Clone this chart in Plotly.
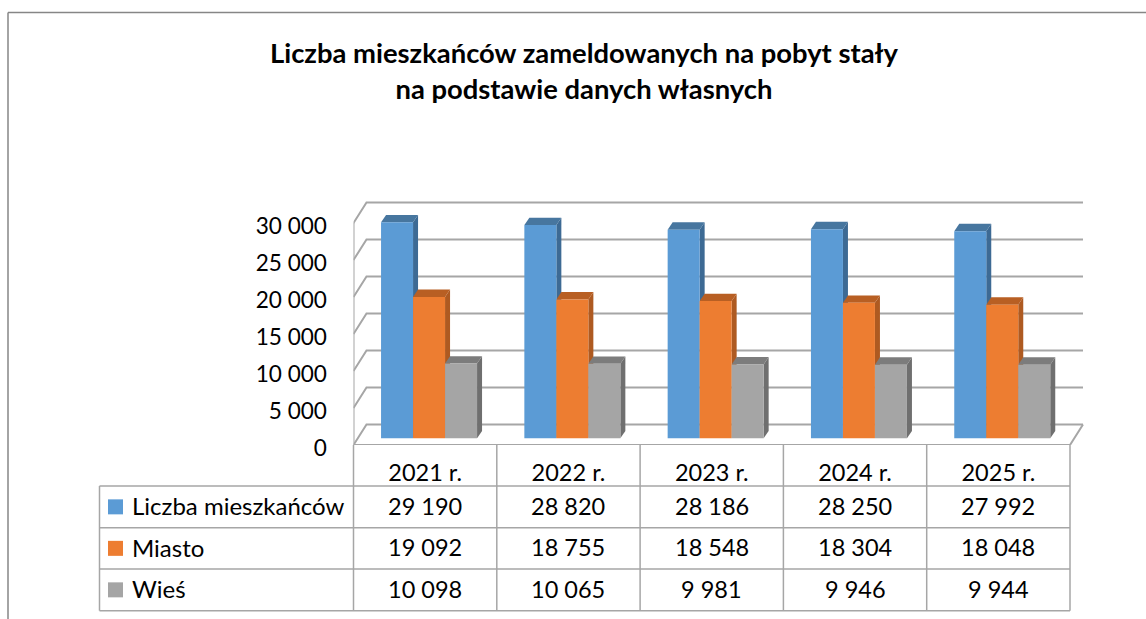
import plotly.graph_objects as go

# ---------- data ----------
categories = ["2021 r.", "2022 r.", "2023 r.", "2024 r.", "2025 r."]
series_names = ["Liczba mieszkańców", "Miasto", "Wieś"]
residents = [29190, 28820, 28186, 28250, 27992]
city = [19092, 18755, 18548, 18304, 18048]
village = [10098, 10065, 9981, 9946, 9944]
tick_values = [0, 5000, 10000, 15000, 20000, 25000, 30000]
title_text = "Liczba mieszkańców zameldowanych na pobyt stały<br>na podstawie danych własnych"

# ---------- style ----------
FONT = "Lato"
front_colors = ["#5B9BD5", "#ED7D31", "#A5A5A5"]
side_colors = ["#3D6A94", "#AE5A21", "#6F6F6F"]
top_colors = ["#47769F", "#B85F23", "#7C7C7C"]
GRID = "#A6A6A6"
W, H = 1146, 619


def fmt(v):
    return f"{v:,}".replace(",", " ")


def px(x):
    return x / W


def py(y):
    return 1 - y / H


# ---------- plot geometry ----------
LEFT, ZERO_Y, CELL = 353.5, 445.0, 143.3
UNIT_PER_PX = 30000 / 222.0
PLOT_RIGHT, PLOT_TOP = 1095.0, 190.0
x_range = [-0.5, -0.5 + (PLOT_RIGHT - LEFT) / CELL]
y_range = [0, (ZERO_Y - PLOT_TOP) * UNIT_PER_PX]
x_dom = [px(LEFT), px(PLOT_RIGHT)]
y_dom = [py(ZERO_Y), py(PLOT_TOP)]

WALL_DX = 13.0 / CELL          # back-wall depth
WALL_DY = 20.5 * UNIT_PER_PX
BAR_DX = 5.0 / CELL            # bar depth
BAR_DY = 7.4 * UNIT_PER_PX
BAR_BASE = 6.7 * UNIT_PER_PX
BAR_W = 32.0 / CELL
GROUP_OFF = -44.1 / CELL
X_FRONT_END = 4.5

fig = go.Figure()

# grid / walls
gx, gy = [], []
for v in tick_values:
    gx += [-0.5, -0.5 + WALL_DX, X_FRONT_END + WALL_DX, None]
    gy += [v, v + WALL_DY, v + WALL_DY, None]
# left vertical edge
gx += [-0.5, -0.5, None]
gy += [0, tick_values[-1], None]
# floor front and right edges
gx += [-0.5, X_FRONT_END, X_FRONT_END + WALL_DX]
gy += [0, 0, WALL_DY]
fig.add_trace(go.Scatter(x=gx, y=gy, mode="lines", cliponaxis=False,
                         line=dict(color=GRID, width=2), hoverinfo="skip", showlegend=False))

# 3D sides and tops, back to front, computed from the values
all_series = [residents, city, village]
for s, vals in enumerate(all_series):
    for i, v in enumerate(vals):
        left = i + GROUP_OFF + s * BAR_W
        right = left + BAR_W
        top = BAR_BASE + v
        fig.add_trace(go.Scatter(
            x=[right, right + BAR_DX, right + BAR_DX, right, right],
            y=[BAR_BASE, BAR_BASE + BAR_DY, top + BAR_DY, top, BAR_BASE],
            mode="lines", fill="toself", fillcolor=side_colors[s],
            line=dict(width=0, color=side_colors[s]), hoverinfo="skip", showlegend=False))
        fig.add_trace(go.Scatter(
            x=[left, right, right + BAR_DX, left + BAR_DX, left],
            y=[top, top, top + BAR_DY, top + BAR_DY, top],
            mode="lines", fill="toself", fillcolor=top_colors[s],
            line=dict(width=0, color=top_colors[s]), hoverinfo="skip", showlegend=False))

# front faces: overlay subplot so they sit above the side faces
for s, vals in enumerate(all_series):
    fig.add_trace(go.Bar(
        x=list(range(len(categories))), y=vals, base=BAR_BASE, name=series_names[s],
        width=BAR_W, offset=GROUP_OFF + s * BAR_W, marker=dict(color=front_colors[s], line=dict(width=0)),
        xaxis="x2", yaxis="y2", showlegend=False))

# ---------- table ----------
ROW_Y = [486.0, 527.7, 569.0, 610.7]
TABLE_LEFT = 99.5
COL_X = [LEFT + i * CELL for i in range(len(categories) + 1)]
shapes = []


def line(x0, y0, x1, y1, color=GRID, width=1.5):
    shapes.append(dict(type="line", xref="paper", yref="paper", x0=px(x0), y0=py(y0), x1=px(x1), y1=py(y1),
                       line=dict(color=color, width=width)))


for y in ROW_Y:
    line(TABLE_LEFT, y, COL_X[-1], y)
line(TABLE_LEFT, ROW_Y[0], TABLE_LEFT, ROW_Y[-1])
for j, x in enumerate(COL_X):
    line(x, ZERO_Y, x, ROW_Y[-1])

# outer frame
line(8, 12.5, W, 12.5, "#868686", 1.5)
line(8, 12.5, 8, H, "#868686", 1.5)

annotations = []
for r, vals in enumerate(all_series):
    yc = (ROW_Y[r] + ROW_Y[r + 1]) / 2
    shapes.append(dict(type="rect", xref="paper", yref="paper", x0=px(108), x1=px(123),
                       y0=py(yc - 7.5), y1=py(yc + 7.5), fillcolor=front_colors[r], line=dict(width=0)))
    annotations.append(dict(xref="paper", yref="paper", x=px(130), y=py(yc - 1), text=series_names[r],
                            showarrow=False, xanchor="left", yanchor="middle",
                            font=dict(family=FONT, size=24, color="#000000")))
    for c, v in enumerate(vals):
        annotations.append(dict(xref="paper", yref="paper", x=px(COL_X[c] + CELL / 2), y=py(yc - 1), text=fmt(v),
                                showarrow=False, xanchor="center", yanchor="middle",
                                font=dict(family=FONT, size=23.5, color="#000000")))

fig.update_layout(
    width=W, height=H, margin=dict(l=0, r=0, t=0, b=0, pad=0),
    paper_bgcolor="#FFFFFF", plot_bgcolor="rgba(0,0,0,0)",
    showlegend=False, barmode="overlay",
    title=dict(text=title_text, x=0.5096, xanchor="center", xref="paper",
               y=1 - 63 / H, yanchor="top", yref="container",
               font=dict(family=FONT, size=27.4, color="#000000", weight="bold")),
    xaxis=dict(domain=x_dom, range=x_range, showgrid=False, zeroline=False, showline=False, automargin=False,
               tickmode="array", tickvals=list(range(len(categories))), ticktext=categories,
               ticks="outside", ticklen=7, tickcolor="rgba(0,0,0,0)",
               tickfont=dict(family=FONT, size=23.5, color="#000000")),
    yaxis=dict(domain=y_dom, range=y_range, showgrid=False, zeroline=False, showline=False, automargin=False,
               tickmode="array", tickvals=tick_values, ticktext=[fmt(v) for v in tick_values],
               ticks="outside", ticklen=21, tickcolor="rgba(0,0,0,0)", ticklabelshift=3,
               tickfont=dict(family=FONT, size=22.6, color="#000000")),
    xaxis2=dict(overlaying="x", matches="x", visible=False, automargin=False),
    yaxis2=dict(overlaying="y", matches="y", visible=False, automargin=False),
    shapes=shapes, annotations=annotations,
)

fig.write_html("out.html", config=dict(displayModeBar=False), post_script="document.body.style.margin='0';")
